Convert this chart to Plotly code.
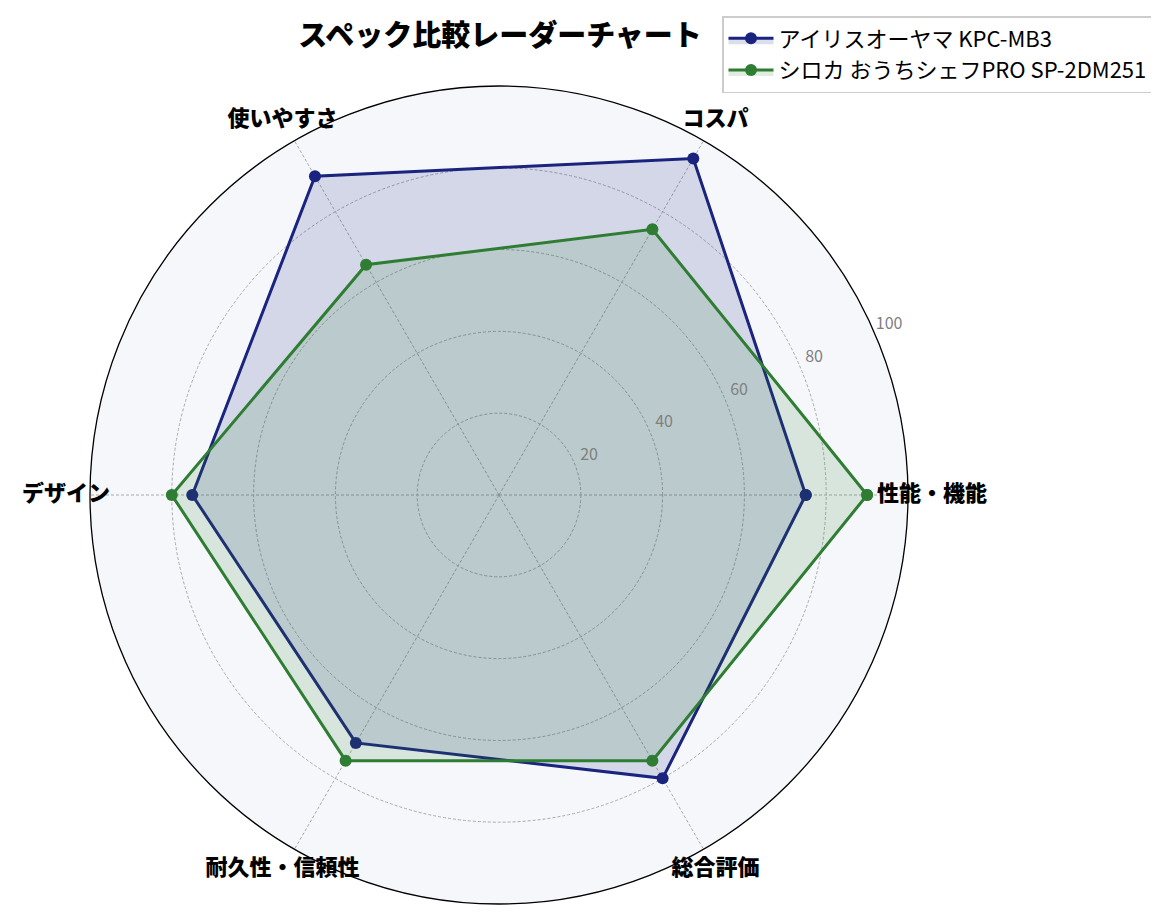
import plotly.graph_objects as go

categories = ["性能・機能", "コスパ", "使いやすさ", "デザイン", "耐久性・信頼性", "総合評価"]
series_names = ["アイリスオーヤマ KPC-MB3", "シロカ おうちシェフPRO SP-2DM251"]
iris_values = [75, 95, 90, 75, 70, 80]
siroca_values = [90, 75, 65, 80, 75, 75]
radial_ticks = [20, 40, 60, 80, 100]

FONT = "Noto Sans CJK JP"
W, H = 1159, 920
CX, CY, R = 491, 433, 409   # domain centre (px from bottom-left) and radius; plotly draws it ~8px right/down
R2 = 433                    # overlay polar radius (as big as the height allows)
R2_MAX = 100 * R2 / R       # overlay range so both polars share the same scale

fig = go.Figure()

styles = [
    ("#1a237e", "rgba(26,35,126,0.15)"),
    ("#2e7d32", "rgba(46,125,50,0.15)"),
]

for name, vals, (line_col, fill_col) in zip(series_names, [iris_values, siroca_values], styles):
    # close the polygon
    fig.add_trace(go.Scatterpolar(
        r=vals + vals[:1],
        theta=categories + categories[:1],
        mode="lines+markers",
        name=name,
        line=dict(color=line_col, width=3),
        marker=dict(color=line_col, size=12),
        fill="toself",
        fillcolor=fill_col,
    ))

# category labels on an invisible overlay polar so they can overlap the ring
step = 360 / len(categories)
fig.add_trace(go.Scatterpolar(
    r=[R2_MAX] * len(categories),
    theta=[i * step for i in range(len(categories))],
    mode="text",
    text=categories,
    textfont=dict(size=22, color="black", family=FONT, weight=900),
    cliponaxis=False,
    showlegend=False,
    hoverinfo="skip",
    subplot="polar2",
))

# radial tick labels, matplotlib style: on the 22.5 deg spoke, just outside each ring
fig.add_trace(go.Scatterpolar(
    r=[t + 4 for t in radial_ticks],
    theta=[23.5] * len(radial_ticks),
    mode="text",
    text=[str(t) for t in radial_ticks],
    textfont=dict(size=16, color="#808080", family=FONT),
    cliponaxis=False,
    showlegend=False,
    hoverinfo="skip",
    subplot="polar2",
))

hidden_axis = dict(showline=False, showgrid=False, showticklabels=False, ticks="")

fig.update_layout(
    width=W,
    height=H,
    margin=dict(l=0, r=0, t=0, b=0),
    paper_bgcolor="white",
    font=dict(family=FONT, color="black"),
    title=dict(
        text="スペック比較レーダーチャート",
        x=492 / W,
        xanchor="center",
        y=1 - 28 / H,
        yanchor="middle",
        font=dict(size=29, family=FONT, weight=900, color="black"),
    ),
    legend=dict(
        x=1145 / W,
        xanchor="right",
        y=1 - 8 / H,
        yanchor="top",
        bgcolor="rgba(255,255,255,0.8)",
        bordercolor="#cccccc",
        borderwidth=1.5,
        font=dict(size=22, family=FONT),
        itemwidth=45,
        tracegroupgap=2,
    ),
    polar=dict(
        domain=dict(x=[(CX - R) / W, (CX + R) / W], y=[(CY - R) / H, (CY + R) / H]),
        bgcolor="#f5f7fb",
        radialaxis=dict(
            range=[0, 100],
            tickvals=radial_ticks,
            angle=22.5,
            showline=False,
            showticklabels=False,
            ticks="",
            gridcolor="#aaaaaa",
            griddash="3px,2px",
            gridwidth=0.7,
        ),
        angularaxis=dict(
            rotation=0,
            direction="counterclockwise",
            showline=True,
            linecolor="black",
            linewidth=1.3,
            gridcolor="#aaaaaa",
            griddash="3px,2px",
            gridwidth=0.7,
            ticks="",
            showticklabels=False,
        ),
    ),
    polar2=dict(
        domain=dict(x=[(CX - R2) / W, (CX + R2) / W], y=[max(CY - R2, 0) / H, (CY + R2) / H]),
        bgcolor="rgba(0,0,0,0)",
        radialaxis=dict(range=[0, R2_MAX], **hidden_axis),
        angularaxis=dict(type="linear", thetaunit="degrees", rotation=0,
                         direction="counterclockwise", **hidden_axis),
    ),
)

fig.write_html("out.html")
